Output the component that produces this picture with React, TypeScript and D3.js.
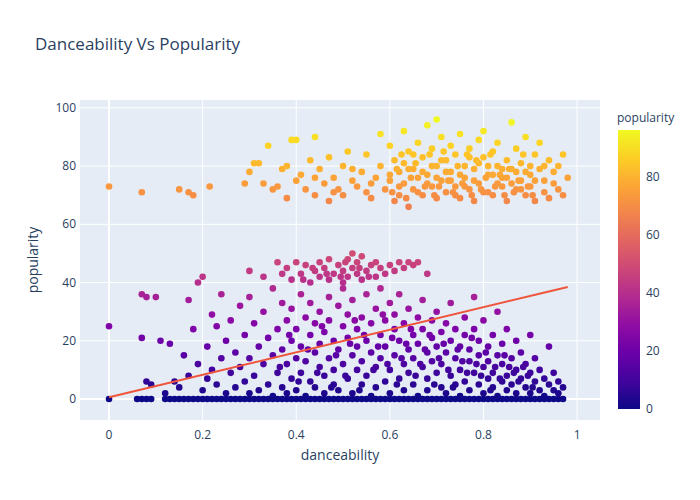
import React from "react";
import * as d3 from "d3";

const title = "Danceability Vs Popularity";
const xTicks = [0, 0.2, 0.4, 0.6, 0.8, 1];
const yTicks = [0, 20, 40, 60, 80, 100];
const cbTicks = [0, 20, 40, 60, 80];

const zeroRowX = [0, 0.06, 0.07, 0.08, 0.09, 0.12, 0.13, 0.14, 0.15, 0.16, 0.17, 0.18, 0.19, 0.2, 0.21, 0.22, 0.23, 0.24, 0.25, 0.26, 0.27, 0.28, 0.29, 0.3, 0.31, 0.32, 0.33, 0.34, 0.35, 0.36, 0.37, 0.38, 0.39, 0.4, 0.41, 0.42, 0.43, 0.44, 0.45, 0.46, 0.47, 0.48, 0.49, 0.5, 0.51, 0.52, 0.53, 0.54, 0.55, 0.56, 0.57, 0.58, 0.59, 0.6, 0.61, 0.62, 0.63, 0.64, 0.65, 0.66, 0.67, 0.68, 0.69, 0.7, 0.71, 0.72, 0.73, 0.74, 0.75, 0.76, 0.77, 0.78, 0.79, 0.8, 0.81, 0.82, 0.83, 0.84, 0.85, 0.86, 0.87, 0.88, 0.89, 0.9, 0.91, 0.92, 0.93, 0.94, 0.95, 0.96, 0.97];

const lowCluster: [number, number][] = [
  [0, 25], [0.07, 36], [0.08, 35], [0.07, 21], [0.08, 6], [0.09, 5], [0.1, 35], [0.11, 20], [0.12, 2], [0.13, 19], [0.14, 6], [0.15, 4], [0.16, 15], [0.17, 34], [0.17, 8], [0.18, 24], [0.19, 12], [0.19, 40], [0.2, 42], [0.2, 3], [0.21, 7], [0.21, 18], [0.22, 29], [0.22, 10], [0.23, 5], [0.23, 25], [0.24, 14], [0.24, 36], [0.25, 2], [0.25, 20], [0.26, 9], [0.26, 27], [0.27, 16], [0.27, 4], [0.28, 32], [0.28, 11], [0.29, 22], [0.29, 6], [0.3, 35], [0.3, 14], [0.3, 2], [0.31, 26], [0.31, 8], [0.32, 18], [0.32, 3], [0.33, 30], [0.33, 12], [0.34, 21], [0.34, 5], [0.35, 38], [0.35, 15], [0.35, 1], [0.36, 24], [0.36, 9], [0.37, 33], [0.37, 17], [0.37, 4], [0.38, 27], [0.38, 12], [0.38, 2], [0.39, 20], [0.39, 7], [0.39, 31], [0.4, 14], [0.4, 24], [0.4, 3], [0.41, 36], [0.41, 18], [0.41, 9], [0.42, 28], [0.42, 13], [0.42, 1], [0.43, 22], [0.43, 6], [0.43, 33], [0.44, 16], [0.44, 26], [0.44, 4], [0.45, 11], [0.45, 30], [0.45, 19], [0.46, 2], [0.46, 23], [0.46, 8], [0.47, 35], [0.47, 14], [0.47, 27], [0.48, 5], [0.48, 20], [0.48, 10], [0.49, 32], [0.49, 17], [0.49, 3], [0.5, 25], [0.5, 12], [0.5, 38], [0.51, 7], [0.51, 21], [0.51, 29], [0.52, 15], [0.52, 2], [0.52, 34], [0.53, 10], [0.53, 24], [0.53, 18], [0.54, 5], [0.54, 28], [0.54, 13], [0.55, 36], [0.55, 20], [0.55, 8], [0.56, 1], [0.56, 26], [0.56, 16], [0.57, 31], [0.57, 11], [0.57, 4], [0.58, 22], [0.58, 14], [0.58, 38], [0.59, 6], [0.59, 27], [0.59, 18], [0.6, 33], [0.6, 10], [0.6, 2], [0.61, 24], [0.61, 15], [0.61, 29], [0.62, 7], [0.62, 20], [0.62, 36], [0.63, 12], [0.63, 3], [0.63, 26], [0.64, 17], [0.64, 31], [0.64, 9], [0.65, 22], [0.65, 5], [0.65, 14], [0.66, 28], [0.66, 1], [0.66, 19], [0.67, 11], [0.67, 34], [0.67, 24], [0.68, 7], [0.68, 16], [0.68, 3], [0.69, 21], [0.69, 27], [0.69, 13], [0.7, 9], [0.7, 30], [0.7, 18], [0.71, 4], [0.71, 23], [0.71, 12], [0.72, 16], [0.72, 2], [0.72, 26], [0.73, 8], [0.73, 20], [0.73, 33], [0.74, 14], [0.74, 5], [0.74, 24], [0.75, 10], [0.75, 18], [0.75, 1], [0.76, 22], [0.76, 6], [0.76, 28], [0.77, 13], [0.77, 3], [0.77, 17], [0.78, 9], [0.78, 24], [0.78, 35], [0.79, 5], [0.79, 15], [0.79, 20], [0.8, 11], [0.8, 2], [0.8, 27], [0.81, 7], [0.81, 18], [0.81, 13], [0.82, 4], [0.82, 22], [0.82, 9], [0.83, 15], [0.83, 1], [0.83, 30], [0.84, 6], [0.84, 12], [0.84, 19], [0.85, 3], [0.85, 24], [0.85, 8], [0.86, 14], [0.86, 5], [0.87, 10], [0.87, 20], [0.87, 2], [0.88, 7], [0.88, 16], [0.89, 4], [0.89, 12], [0.9, 9], [0.9, 2], [0.9, 22], [0.91, 6], [0.91, 14], [0.92, 3], [0.92, 10], [0.93, 7], [0.93, 1], [0.94, 5], [0.94, 18], [0.95, 3], [0.95, 9], [0.96, 2], [0.96, 6], [0.97, 4],
  [0.365, 11], [0.385, 22], [0.405, 6], [0.425, 17], [0.445, 9], [0.455, 25], [0.475, 4], [0.485, 15], [0.505, 8], [0.515, 19], [0.525, 27], [0.535, 3], [0.545, 22], [0.565, 10], [0.575, 18], [0.585, 29], [0.595, 12], [0.605, 21], [0.615, 5], [0.625, 14], [0.635, 19], [0.645, 24], [0.655, 8], [0.665, 12], [0.675, 17], [0.685, 22], [0.695, 5], [0.705, 14], [0.715, 19], [0.725, 10], [0.735, 4], [0.745, 17], [0.755, 13], [0.765, 9], [0.775, 21], [0.785, 12], [0.795, 8], [0.805, 16], [0.815, 3], [0.825, 11], [0.835, 7], [0.845, 15], [0.855, 11], [0.865, 9], [0.875, 6], [0.885, 11], [0.895, 8], [0.905, 4],
];

const midCluster: [number, number][] = [
  [0.3, 44], [0.33, 42], [0.36, 47], [0.37, 43], [0.38, 45], [0.39, 41], [0.4, 47], [0.41, 43], [0.42, 46], [0.43, 40], [0.44, 44], [0.45, 47], [0.45, 42], [0.46, 45], [0.47, 41], [0.47, 48], [0.48, 43], [0.49, 46], [0.5, 40], [0.5, 44], [0.51, 48], [0.51, 42], [0.52, 50], [0.52, 45], [0.53, 43], [0.53, 47], [0.54, 41], [0.54, 49], [0.55, 44], [0.56, 46], [0.57, 42], [0.57, 47], [0.58, 45], [0.59, 43], [0.6, 46], [0.61, 44], [0.62, 47], [0.63, 45], [0.64, 47], [0.65, 46], [0.66, 47], [0.68, 43],
  [0.415, 41], [0.435, 45], [0.465, 43], [0.495, 42], [0.505, 47], [0.535, 45], [0.555, 42],
];

const topCluster: [number, number][] = [
  [0, 73], [0.07, 71], [0.15, 72], [0.17, 71], [0.18, 70], [0.215, 73], [0.29, 74], [0.3, 78], [0.31, 81], [0.32, 81], [0.33, 74], [0.34, 87], [0.35, 72], [0.36, 73], [0.37, 79], [0.38, 80], [0.38, 69], [0.39, 89], [0.4, 89], [0.4, 75], [0.41, 77], [0.42, 72], [0.43, 82], [0.44, 90], [0.44, 70], [0.45, 79], [0.46, 74], [0.47, 83], [0.47, 68], [0.48, 76], [0.49, 72], [0.5, 80], [0.5, 70], [0.51, 85], [0.52, 75], [0.53, 73], [0.54, 78], [0.55, 71], [0.55, 84], [0.56, 69], [0.57, 76], [0.58, 91], [0.58, 80], [0.59, 72], [0.6, 87], [0.6, 75], [0.61, 68], [0.61, 82], [0.62, 78], [0.62, 70], [0.63, 92], [0.63, 74], [0.64, 85], [0.64, 66], [0.65, 79], [0.65, 72], [0.66, 88], [0.66, 76], [0.67, 70], [0.67, 83], [0.68, 94], [0.68, 77], [0.69, 73], [0.69, 86], [0.7, 96], [0.7, 80], [0.7, 69], [0.71, 75], [0.71, 90], [0.72, 82], [0.72, 71], [0.73, 78], [0.73, 87], [0.74, 73], [0.74, 84], [0.75, 69], [0.75, 91], [0.76, 76], [0.76, 80], [0.77, 72], [0.77, 86], [0.78, 79], [0.78, 68], [0.79, 89], [0.79, 74], [0.8, 83], [0.8, 92], [0.81, 71], [0.81, 77], [0.82, 85], [0.82, 70], [0.83, 80], [0.83, 88], [0.84, 73], [0.84, 76], [0.85, 82], [0.85, 68], [0.86, 95], [0.86, 79], [0.87, 72], [0.87, 86], [0.88, 75], [0.88, 81], [0.89, 70], [0.89, 90], [0.9, 77], [0.9, 73], [0.91, 84], [0.91, 68], [0.92, 79], [0.92, 88], [0.93, 71], [0.93, 75], [0.94, 82], [0.94, 69], [0.95, 78], [0.95, 74], [0.96, 80], [0.96, 72], [0.97, 84], [0.97, 70],
  [0.6, 77], [0.62, 73], [0.64, 79], [0.66, 71], [0.68, 74], [0.7, 76], [0.72, 78], [0.74, 70], [0.76, 73], [0.78, 75], [0.8, 71], [0.82, 77], [0.84, 79], [0.86, 74], [0.88, 72], [0.9, 80], [0.63, 81], [0.67, 78], [0.71, 82], [0.75, 77], [0.79, 81], [0.83, 74], [0.87, 78], [0.91, 75], [0.56, 74], [0.52, 79], [0.48, 71], [0.44, 76], [0.65, 84], [0.69, 80], [0.73, 75], [0.77, 83], [0.81, 80], [0.85, 76], [0.89, 78], [0.93, 80], [0.98, 76],
  [0.605, 71], [0.615, 79], [0.625, 84], [0.635, 69], [0.645, 76], [0.655, 81], [0.675, 73], [0.685, 84], [0.695, 70], [0.705, 73], [0.715, 85], [0.725, 75], [0.735, 71], [0.745, 80], [0.755, 74], [0.765, 84], [0.775, 70], [0.785, 82], [0.795, 72], [0.805, 76], [0.815, 84], [0.825, 73], [0.835, 77], [0.845, 70], [0.855, 79], [0.865, 71], [0.875, 75], [0.885, 84], [0.895, 73], [0.905, 70],
];

const trend = [[0, 0.6], [0.98, 38.5]];

const W = 700, H = 500;
const L = 80, R = 600, T = 100, B = 420;

export default function App() {
  const x = d3.scaleLinear().domain([-0.062, 1.049]).range([L, R]);
  const y = d3.scaleLinear().domain([-7.2, 102.7]).range([B, T]);
  const cmax = 96;
  const color = (v: number) => d3.interpolatePlasma(Math.max(0, Math.min(1, v / cmax)));
  const pts: [number, number][] = [
    ...zeroRowX.map((v) => [v, 0] as [number, number]),
    ...lowCluster, ...midCluster, ...topCluster,
  ];
  const cbTop = 130, cbBot = 409, cbX = 618, cbW = 22;
  const cy = d3.scaleLinear().domain([0, cmax]).range([cbBot, cbTop]);
  const stops = d3.range(0, 11).map((i) => i / 10);
  const line = d3.line<number[]>().x((d) => x(d[0])).y((d) => y(d[1]));
  const font = "'Open Sans', Arial, sans-serif";
  return (
    <svg width={W} height={H} style={{ display: "block", position: "absolute", left: 0, top: 0 }} fontFamily={font}>
      <defs>
        <linearGradient id="cb" x1="0" y1="1" x2="0" y2="0">
          {stops.map((s) => <stop key={s} offset={s} stopColor={d3.interpolatePlasma(s)} />)}
        </linearGradient>
        <clipPath id="clip"><rect x={L} y={T} width={R - L} height={B - T} /></clipPath>
      </defs>
      <rect width={W} height={H} fill="#fff" />
      <rect x={L} y={T} width={R - L} height={B - T} fill="#e5ecf6" />
      {xTicks.map((t) => <line key={t} x1={x(t)} x2={x(t)} y1={T} y2={B} stroke="#fff" strokeWidth={t === 0 ? 2 : 1} />)}
      {yTicks.map((t) => <line key={t} x1={L} x2={R} y1={y(t)} y2={y(t)} stroke="#fff" strokeWidth={t === 0 ? 2 : 1} />)}
      <g clipPath="url(#clip)">
        {pts.map((p, i) => <circle key={i} cx={x(p[0])} cy={y(p[1])} r={3.3} fill={color(p[1])} />)}
        <path d={line(trend) || ""} stroke="#ef553b" strokeWidth={2} fill="none" />
      </g>
      {xTicks.map((t) => <text key={t} x={x(t)} y={B + 19} textAnchor="middle" fontSize={12} fill="#2a3f5f">{t}</text>)}
      {yTicks.map((t) => <text key={t} x={L - 4} y={y(t) + 4} textAnchor="end" fontSize={12} fill="#2a3f5f">{t}</text>)}
      <text x={(L + R) / 2} y={460} textAnchor="middle" fontSize={14} fill="#2a3f5f">danceability</text>
      <text transform={`translate(38,${(T + B) / 2}) rotate(-90)`} textAnchor="middle" fontSize={14} fill="#2a3f5f">popularity</text>
      <text x={35} y={50} fontSize={17} fill="#2a3f5f">{title}</text>
      <text x={617} y={122} fontSize={12} fill="#2a3f5f">popularity</text>
      <rect x={cbX} y={cbTop} width={cbW} height={cbBot - cbTop} fill="url(#cb)" />
      {cbTicks.map((t) => <text key={t} x={cbX + cbW + 6} y={cy(t) + 4} fontSize={12} fill="#2a3f5f">{t}</text>)}
    </svg>
  );
}
